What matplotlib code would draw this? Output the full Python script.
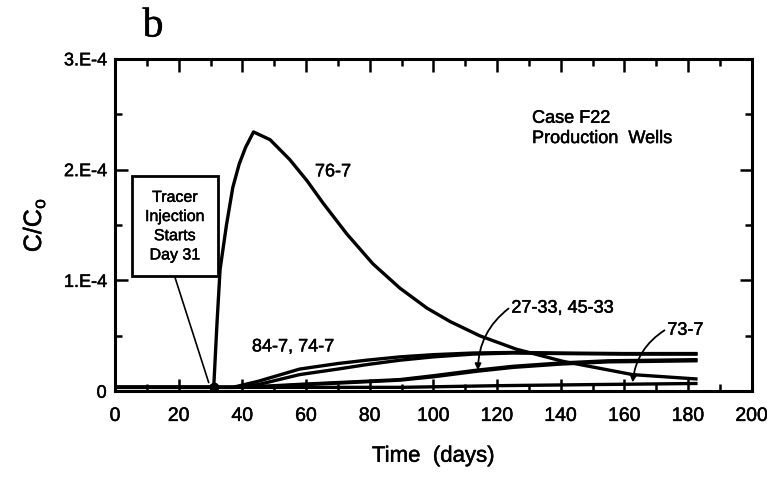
import matplotlib
matplotlib.use('Agg')
import matplotlib.pyplot as plt
import matplotlib.patheffects as pe
from matplotlib.text import Text
from matplotlib.patches import Rectangle
from matplotlib.ticker import MultipleLocator, FixedLocator, FixedFormatter

plt.rcParams['font.family'] = ['Liberation Sans', 'DejaVu Sans']

# Tracer breakthrough curves, C/Co versus time (days)
days_76_7 = [0, 31, 32, 33, 35, 37, 39, 41, 43.5, 48.7, 54.9, 60.3, 65.3, 72.8, 81,
             89.5, 98, 105.2, 114.6, 126, 140.7, 162.6, 183]
conc_76_7 = [0.035, 0.035, 0.6, 1.1, 1.5, 1.84, 2.05, 2.2, 2.34, 2.27, 2.09, 1.9,
             1.7, 1.42, 1.15, 0.93, 0.75, 0.63, 0.5, 0.38, 0.27, 0.15, 0.11]

days_84_7 = [0, 37, 45, 58, 70, 79, 89.5, 100, 112.5, 125, 140, 160, 183]
conc_84_7 = [0.035, 0.035, 0.09, 0.2, 0.25, 0.28, 0.31, 0.33, 0.345, 0.35, 0.345, 0.34, 0.34]
conc_74_7 = [0.035, 0.035, 0.06, 0.15, 0.2, 0.24, 0.28, 0.31, 0.335, 0.345, 0.34, 0.335, 0.335]

days_27_33 = [0, 40, 50, 60, 75, 89.5, 100, 113.6, 125, 140, 155, 170, 183]
conc_27_33 = [0.035, 0.035, 0.05, 0.065, 0.085, 0.105, 0.14, 0.19, 0.225, 0.255, 0.275, 0.28, 0.285]
conc_45_33 = [0.035, 0.035, 0.045, 0.06, 0.08, 0.1, 0.13, 0.18, 0.215, 0.245, 0.265, 0.27, 0.275]

days_73_7 = [0, 60, 90, 120, 150, 183]
conc_73_7 = [0.035, 0.035, 0.035, 0.05, 0.06, 0.07]

injection_day = 31
injection_conc = 0.035

scale = 1e-4
y_ticks = [0, 1e-4, 2e-4, 3e-4]
y_tick_labels = ['0', '1.E-4', '2.E-4', '3.E-4']

fig = plt.figure(figsize=(7.67, 4.86), dpi=100)
ax = fig.add_axes([0.150, 0.195, 0.830, 0.684])

lw = 2.4
for d, c in [(days_73_7, conc_73_7), (days_27_33, conc_27_33), (days_27_33, conc_45_33),
             (days_84_7, conc_84_7), (days_84_7, conc_74_7), (days_76_7, conc_76_7)]:
    ax.plot(d, [v * scale for v in c], color='black', linewidth=lw, solid_capstyle='butt')

ax.plot([injection_day], [injection_conc * scale], 'o', color='black', markersize=6)

ax.set_xlim(0, 200)
ax.set_ylim(0, 3e-4)
ax.xaxis.set_major_locator(MultipleLocator(20))
ax.xaxis.set_minor_locator(MultipleLocator(10))
ax.yaxis.set_major_locator(FixedLocator(y_ticks))
ax.yaxis.set_major_formatter(FixedFormatter(y_tick_labels))
ax.yaxis.set_minor_locator(MultipleLocator(0.5e-4))
ax.tick_params(which='both', direction='in', top=True, right=True, width=1.8, color='black')
ax.tick_params(which='major', length=9)
ax.tick_params(which='minor', length=5)
ax.tick_params(axis='x', labelsize=14, pad=12)
ax.tick_params(axis='y', labelsize=13, pad=6)
for s in ax.spines.values():
    s.set_linewidth(2.2)

ax.set_xlabel('Time  (days)', fontsize=16, labelpad=15)
ax.set_ylabel('C/C$_\\mathregular{o}$', fontsize=18, labelpad=12)

# panel letter
fig.text(0.186, 0.925, 'b', fontsize=30, family='Liberation Serif', ha='left', va='baseline')

ax.text(131, 2.54e-4, 'Case F22\nProduction  Wells', fontsize=13, va='top', ha='left',
        linespacing=1.25)
ax.text(62.8, 1.98e-4, '76-7', fontsize=13, va='center', ha='left')
ax.text(43, 0.40e-4, '84-7, 74-7', fontsize=13, va='center', ha='left')

# injection note with leader to the start point
ax.add_patch(Rectangle((5.3, 1.04e-4), 27.0, 0.90e-4, fill=False, edgecolor='black',
                       linewidth=2.0, zorder=3))
ax.text(18.8, 1.49e-4, 'Tracer\nInjection\nStarts\nDay 31', fontsize=11.5, ha='center',
        va='center', linespacing=1.35)
ax.plot([18.8, 29.4], [1.03e-4, 0.08e-4], color='black', linewidth=1.2)

ax.annotate('27-33, 45-33', xy=(114, 0.19e-4), xytext=(124.5, 0.75e-4), fontsize=13,
            va='center', ha='left',
            arrowprops=dict(arrowstyle='-|>', color='black', lw=1.3, mutation_scale=9,
                            shrinkA=0, shrinkB=0, connectionstyle='arc3,rad=0.25',
                            relpos=(0, 0.6)))
ax.annotate('73-7', xy=(162.6, 0.08e-4), xytext=(173.5, 0.55e-4), fontsize=13,
            va='center', ha='left',
            arrowprops=dict(arrowstyle='-|>', color='black', lw=1.3, mutation_scale=9,
                            shrinkA=0, shrinkB=0, connectionstyle='arc3,rad=0.25',
                            relpos=(0, 0.6)))

# slightly heavier glyphs, like a photocopied print
for t in fig.findobj(Text):
    t.set_path_effects([pe.withStroke(linewidth=0.35, foreground='black')])

fig.savefig('out.png', dpi=100)
